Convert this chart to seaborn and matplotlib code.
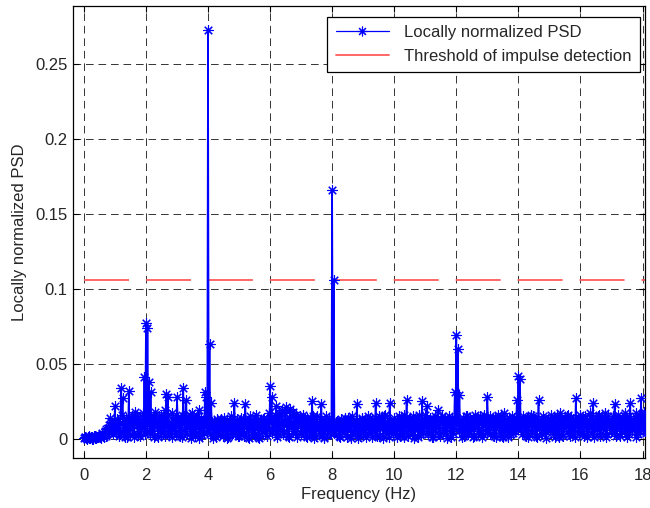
import matplotlib
matplotlib.use("Agg")
import matplotlib.pyplot as plt
from matplotlib.lines import Line2D
import numpy as np
import pandas as pd
import seaborn as sns

# ---- data, PSD in units of 1e-3, one row per Hz
# bins at 0.00, 0.05, 0.10 ... Hz
psd_milli = [
    0.5, 1.5, 0.3, 1.8, 0.6, 1.2, 0.2, 1.9, 0.8, 1.4, 2.5, 0.4, 4.0, 1.0, 6.5, 3.0, 9.0, 14.0, 5.5, 10.5,
    22, 6, 12, 3, 34, 27, 9, 14, 1, 32, 7, 15, 4, 18, 11, 2.5, 13, 8, 17, 41,
    77, 74, 38, 31, 5, 15, 18, 9, 1.5, 12, 16, 6, 19, 30, 28, 3, 11, 17, 7, 14,
    28, 10, 2, 16, 34, 5, 26, 14, 8, 0.5, 17, 12, 4, 15, 19, 9, 2.5, 12, 31, 28,
    273, 63, 24, 6, 11, 1, 13, 8, 3, 10, 14, 5, 12, 1.5, 9, 15, 4, 24, 7, 13,
    2, 14, 9, 4, 23, 12, 1, 15, 7, 11, 3, 16, 8, 0.5, 12, 5, 14, 10, 2, 17,
    35, 28, 6, 16, 22, 3, 17, 10, 19, 5, 21, 12, 1.5, 20, 8, 18, 4, 16, 11, 15,
    3, 16, 9, 2, 14, 11, 6, 25, 0.8, 13, 15, 7, 4, 23, 10, 1, 15, 8, 13, 3,
    166, 106, 5, 12, 9, 1, 13, 7, 11, 3, 14, 8, 0.8, 15, 10, 4, 23, 12, 2, 14,
    6, 12, 1, 15, 9, 4, 13, 10, 24, 2, 15, 7, 12, 0.5, 16, 9, 5, 24, 11, 3,
    14, 8, 1, 15, 11, 4, 16, 9, 26, 2, 13, 7, 15, 0.6, 12, 10, 16, 3, 25, 8,
    16, 22, 5, 14, 10, 1, 15, 8, 19, 3, 13, 11, 6, 14, 0.5, 15, 9, 12, 4, 31,
    69, 60, 29, 7, 14, 2, 11, 15, 5, 13, 9, 1, 16, 10, 4, 14, 12, 3, 16, 8,
    28, 6, 15, 11, 2, 14, 9, 16, 4, 12, 1, 17, 10, 7, 14, 3, 15, 12, 5, 26,
    42, 40, 7, 15, 11, 2, 14, 9, 16, 4, 13, 10, 1, 26, 12, 6, 15, 9, 0.5, 13,
    10, 16, 3, 14, 8, 15, 1, 17, 11, 5, 13, 9, 16, 2, 14, 10, 6, 27, 12, 3,
    16, 9, 2, 15, 12, 5, 17, 8, 24, 1, 14, 11, 16, 4, 13, 9, 17, 3, 15, 10,
    6, 15, 23, 2, 16, 11, 5, 14, 9, 17, 1, 15, 24, 7, 13, 10, 17, 3, 16, 27,
    8, 18, 4, 17,
]
# bins at 0.025, 0.075, 0.125 ... Hz
psd_mid_milli = [
    1.0, 0.4, 1.6, 0.7, 1.3, 0.3, 1.7, 0.5, 1.1, 2.0, 1.2, 3.2, 2.0, 5.0, 2.2, 7.5, 4.0, 11, 3.5, 8,
    5, 13, 2, 10, 16, 6, 1.5, 12, 8, 3, 14, 9, 1, 11, 15, 5, 2, 12, 7, 3,
    5, 12, 3, 9, 14, 1, 11, 7, 15, 4, 10, 13, 2, 8, 16, 6, 1.5, 12, 9, 3,
    14, 6, 11, 1, 15, 8, 3, 12, 16, 5, 9, 2, 13, 7, 0.8, 14, 10, 4, 11, 6,
    8, 3, 11, 0.8, 9, 12, 4, 7, 13, 2, 10, 6, 0.5, 11, 8, 3, 12, 5, 9, 2,
    10, 5, 13, 2, 8, 11, 0.6, 12, 6, 3, 14, 9, 1, 11, 7, 13, 4, 8, 12, 6,
    13, 4, 11, 8, 1, 15, 6, 12, 3, 17, 9, 2, 14, 10, 5, 16, 7, 1, 13, 9,
    11, 5, 14, 1, 8, 12, 3, 15, 7, 2, 11, 9, 13, 5, 0.8, 12, 6, 10, 4, 8,
    9, 4, 11, 7, 2, 12, 5, 10, 14, 1, 8, 13, 3, 9, 6, 12, 0.6, 10, 5, 13,
    9, 3, 12, 6, 14, 1, 10, 5, 8, 13, 2, 11, 7, 15, 4, 9, 1, 12, 6, 10,
    5, 12, 9, 2, 14, 7, 1, 11, 5, 13, 9, 3, 10, 6, 14, 1, 8, 12, 4, 11,
    10, 3, 12, 7, 1, 13, 5, 11, 9, 2, 15, 6, 10, 4, 12, 8, 1, 14, 7, 10,
    12, 5, 9, 1, 12, 6, 15, 3, 10, 7, 13, 2, 11, 8, 5, 15, 1, 9, 12, 4,
    11, 3, 9, 14, 6, 1, 12, 8, 15, 2, 10, 5, 13, 1, 9, 11, 4, 14, 7, 10,
    8, 12, 3, 10, 6, 14, 1, 11, 5, 15, 8, 2, 12, 7, 10, 3, 13, 5, 11, 8,
    6, 12, 9, 1, 11, 4, 14, 7, 2, 12, 8, 15, 3, 10, 6, 13, 1, 9, 14, 7,
    11, 4, 13, 7, 1, 10, 14, 3, 9, 12, 6, 15, 2, 10, 7, 13, 1, 11, 8, 12,
    12, 4, 10, 7, 13, 2, 9, 11, 5, 14, 8, 3, 12, 6, 10, 1, 13, 9, 5, 14,
    11, 5, 13, 9,
]
freq_step = 0.05
threshold = 0.1062
thr_freq = [0, 18.3]
x_ticks = [0, 2, 4, 6, 8, 10, 12, 14, 16, 18]
y_ticks = [0, 0.05, 0.1, 0.15, 0.2, 0.25]
y_ticklabels = ["0", "0.05", "0.1", "0.15", "0.2", "0.25"]

df = pd.concat([
    pd.DataFrame({"freq": np.arange(len(psd_milli)) * freq_step,
                  "psd": np.array(psd_milli) / 1000}),
    pd.DataFrame({"freq": np.arange(len(psd_mid_milli)) * freq_step + freq_step / 2,
                  "psd": np.array(psd_mid_milli) / 1000}),
]).sort_values("freq")
thr = pd.DataFrame({"freq": thr_freq, "psd": [threshold, threshold]})

"""---------------------------------PLOT------------------------------------"""
sns.set_style("ticks")
plt.rcParams["font.family"] = ["Liberation Sans", "DejaVu Sans"]
plt.rcParams["font.size"] = 12
plt.rcParams["path.simplify"] = False
plt.rcParams["lines.scale_dashes"] = False

fig, ax = plt.subplots(figsize=(6.5, 5.08), dpi=100)
fig.subplots_adjust(left=0.1123, right=0.9923, top=0.9882, bottom=0.0984)

sns.lineplot(data=df, x="freq", y="psd", ax=ax, color="#0000ff", lw=1.2,
             marker=(8, 2, 0), markersize=7.5, markeredgecolor="#0000ff",
             markeredgewidth=0.8, estimator=None, zorder=3)
ax.plot(thr["freq"], thr["psd"], color="#ff5a5a", lw=1.3,
        dashes=[32.4, 12.2], zorder=2)

ax.set_xlim(-0.35, 18.08)
ax.set_ylim(-0.0127, 0.2887)
ax.set_xticks(x_ticks)
ax.set_yticks(y_ticks)
ax.set_yticklabels(y_ticklabels)
ax.grid(True, color="#333333", linestyle=(0, (5.5, 3.5)), linewidth=0.7)
ax.tick_params(direction="in", length=4, width=0.8, top=True, right=True,
               labelsize=12, color="black")
ax.tick_params(axis="x", pad=7)
ax.tick_params(axis="y", pad=4)
for s in ax.spines.values():
    s.set_visible(True)
    s.set_color("black")
    s.set_linewidth(0.9)

ax.set_xlabel("Frequency (Hz)", fontsize=12, labelpad=3)
ax.set_ylabel("Locally normalized PSD", fontsize=12, labelpad=6)

handles = [Line2D([], [], color="#0000ff", lw=0.9, marker=(8, 2, 0), markersize=7,
                  markeredgewidth=0.8),
           Line2D([], [], color="#ff5a5a", lw=1.3)]
leg = ax.legend(handles, ["Locally normalized PSD", "Threshold of impulse detection"],
                loc="upper right", bbox_to_anchor=(0.991, 0.976), fontsize=12,
                fancybox=False, framealpha=1, edgecolor="black",
                handlelength=3.2, handletextpad=0.9, borderpad=0.5,
                labelspacing=0.5, borderaxespad=0)
leg.get_frame().set_linewidth(0.9)

fig.savefig("out.png", dpi=100)
